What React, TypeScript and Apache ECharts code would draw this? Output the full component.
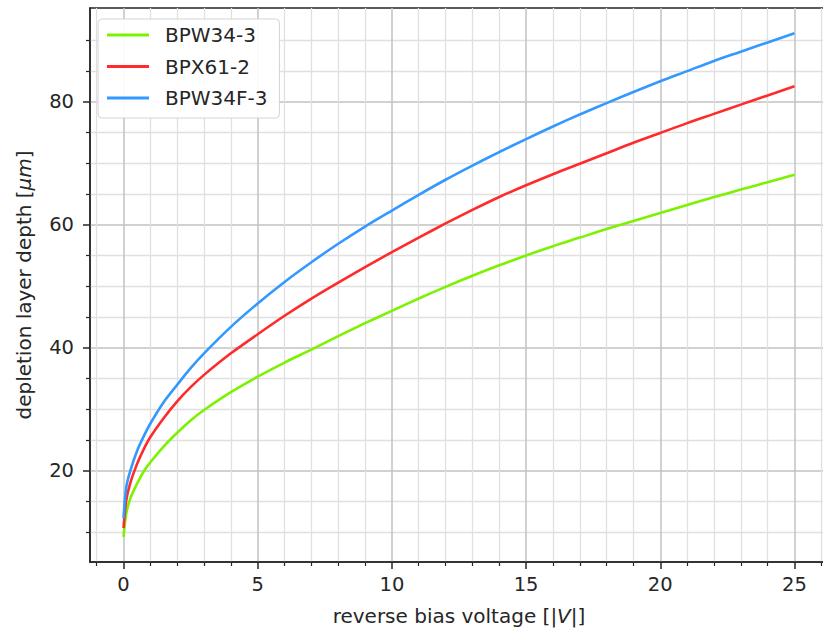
import React, { useEffect, useRef } from "react";
import * as echarts from "echarts";

// reverse bias voltage [V]
const voltage = [0, 0.1, 0.25, 0.5, 0.75, 1, 1.5, 2, 2.5, 3, 4, 5, 6, 7, 8, 9, 10, 11, 12, 13, 14, 15, 16, 17, 18, 19, 20, 21, 22, 23, 24, 25];
// depletion layer depth [µm]
const bpw34_3 = [9.3, 13.0, 15.5, 17.9, 19.9, 21.4, 24.0, 26.2, 28.2, 29.9, 32.8, 35.3, 37.6, 39.7, 41.9, 44.0, 46.0, 48.0, 49.9, 51.7, 53.4, 55.0, 56.5, 57.9, 59.3, 60.6, 61.9, 63.2, 64.5, 65.7, 66.9, 68.1];
const bpx61_2 = [10.7, 15.2, 18.0, 21.1, 23.5, 25.5, 28.6, 31.3, 33.6, 35.6, 39.1, 42.2, 45.2, 48.0, 50.6, 53.1, 55.55, 57.9, 60.2, 62.4, 64.5, 66.4, 68.2, 69.9, 71.6, 73.3, 74.9, 76.5, 78.0, 79.5, 81.0, 82.5];
const bpw34f_3 = [12.3, 17.3, 20.0, 23.2, 25.6, 27.7, 31.2, 34.0, 36.7, 39.1, 43.4, 47.2, 50.7, 53.9, 56.9, 59.7, 62.3, 64.85, 67.3, 69.6, 71.8, 73.9, 75.95, 77.9, 79.75, 81.55, 83.3, 84.95, 86.6, 88.1, 89.6, 91.1];

const seriesNames = ["BPW34-3", "BPX61-2", "BPW34F-3"];
const seriesValues = [bpw34_3, bpx61_2, bpw34f_3];
const seriesColors = ["#7cf200", "#ff2a2a", "#3399ff"];

const xMajorTicks = [0, 5, 10, 15, 20, 25];
const xMinorTicks = [-1, 1, 2, 3, 4, 6, 7, 8, 9, 11, 12, 13, 14, 16, 17, 18, 19, 21, 22, 23, 24, 26];
const yMajorTicks = [20, 40, 60, 80];
const yMinorTicks = [10, 15, 25, 30, 35, 45, 50, 55, 65, 70, 75, 85, 90];

const X_MIN = -1.25;
const X_MAX = 26.25;
const Y_MIN = 5.2;
const Y_MAX = 95.2;

const FONT = "DejaVu Sans";
const TEXT = "#262626";
const SPINE = "#262626";
const MAJOR_GRID = "#c2c2c2";
const MINOR_GRID = "#e0e0e0";

export default function App() {
  const ref = useRef<HTMLDivElement>(null);

  useEffect(() => {
    if (!ref.current) return;
    const chart = echarts.init(ref.current, undefined, { renderer: "svg" });

    const option: any = {
      animation: false,
      textStyle: { fontFamily: FONT },
      grid: {
        left: 90,
        right: -5,
        top: 8,
        bottom: 67,
        show: true,
        borderColor: SPINE,
        borderWidth: 1.5,
        backgroundColor: "transparent",
        outerBoundsMode: "none",
      },
      legend: {
        orient: "vertical",
        left: 98,
        top: 19,
        data: seriesNames,
        icon: "rect",
        itemWidth: 42,
        itemHeight: 3,
        itemGap: 11.5,
        padding: [6, 12, 10, 9],
        backgroundColor: "rgba(255,255,255,0.92)",
        borderColor: "#d4d4d4",
        borderWidth: 1,
        borderRadius: 4,
        textStyle: {
          fontSize: 20,
          color: TEXT,
          fontFamily: FONT,
          lineHeight: 20,
          padding: [0, 0, 0, 11],
        },
      },
      xAxis: [
        {
          type: "value",
          position: "bottom",
          min: X_MIN,
          max: X_MAX,
          name: "reverse bias voltage [|{i|V}|]",
          nameLocation: "middle",
          nameGap: 44,
          nameTextStyle: {
            fontSize: 20,
            color: TEXT,
            fontFamily: FONT,
            rich: { i: { fontSize: 20, fontStyle: "italic", fontFamily: FONT, color: TEXT } },
          },
          axisLine: { show: true, onZero: false, lineStyle: { color: SPINE, width: 1.5 } },
          axisTick: { show: true, inside: false, length: 7, customValues: xMajorTicks, lineStyle: { color: SPINE, width: 1.5 } },
          axisLabel: { show: true, customValues: xMajorTicks, fontSize: 19.5, color: TEXT, fontFamily: FONT, margin: 12 },
          splitLine: { show: true, lineStyle: { color: MAJOR_GRID, width: 1.5 } },
        },
        {
          type: "value",
          position: "bottom",
          min: X_MIN,
          max: X_MAX,
          axisLine: { show: false, onZero: false },
          axisTick: { show: true, inside: false, length: 4, customValues: xMinorTicks, lineStyle: { color: SPINE, width: 1.2 } },
          axisLabel: { show: false },
          splitLine: { show: true, lineStyle: { color: MINOR_GRID, width: 1.3 } },
        },
      ],
      yAxis: [
        {
          type: "value",
          position: "left",
          min: Y_MIN,
          max: Y_MAX,
          name: "depletion layer depth [{i|μm}]",
          nameLocation: "middle",
          nameGap: 56,
          nameTextStyle: {
            fontSize: 20,
            color: TEXT,
            fontFamily: FONT,
            rich: { i: { fontSize: 20, fontStyle: "italic", fontFamily: FONT, color: TEXT } },
          },
          axisLine: { show: true, onZero: false, lineStyle: { color: SPINE, width: 1.5 } },
          axisTick: { show: true, inside: false, length: 7, customValues: yMajorTicks, lineStyle: { color: SPINE, width: 1.5 } },
          axisLabel: { show: true, customValues: yMajorTicks, fontSize: 19.5, color: TEXT, fontFamily: FONT, margin: 16 },
          splitLine: { show: true, lineStyle: { color: MAJOR_GRID, width: 1.5 } },
        },
        {
          type: "value",
          position: "left",
          min: Y_MIN,
          max: Y_MAX,
          axisLine: { show: false, onZero: false },
          axisTick: { show: true, inside: false, length: 4, customValues: yMinorTicks, lineStyle: { color: SPINE, width: 1.2 } },
          axisLabel: { show: false },
          splitLine: { show: true, lineStyle: { color: MINOR_GRID, width: 1.3 } },
        },
      ],
      series: seriesNames.map((name, k) => ({
        type: "line",
        name,
        xAxisIndex: 0,
        yAxisIndex: 0,
        data: voltage.map((v, i) => [v, seriesValues[k][i]]),
        showSymbol: false,
        symbol: "none",
        smooth: 0.3,
        color: seriesColors[k],
        itemStyle: { color: seriesColors[k] },
        lineStyle: { width: 2.6, color: seriesColors[k] },
        z: 3 + k,
      })),
    };

    chart.setOption(option);
    return () => chart.dispose();
  }, []);

  return (
    <div
      ref={ref}
      style={{ position: "fixed", left: 0, top: 0, width: 823, height: 629, background: "#fff" }}
    />
  );
}
